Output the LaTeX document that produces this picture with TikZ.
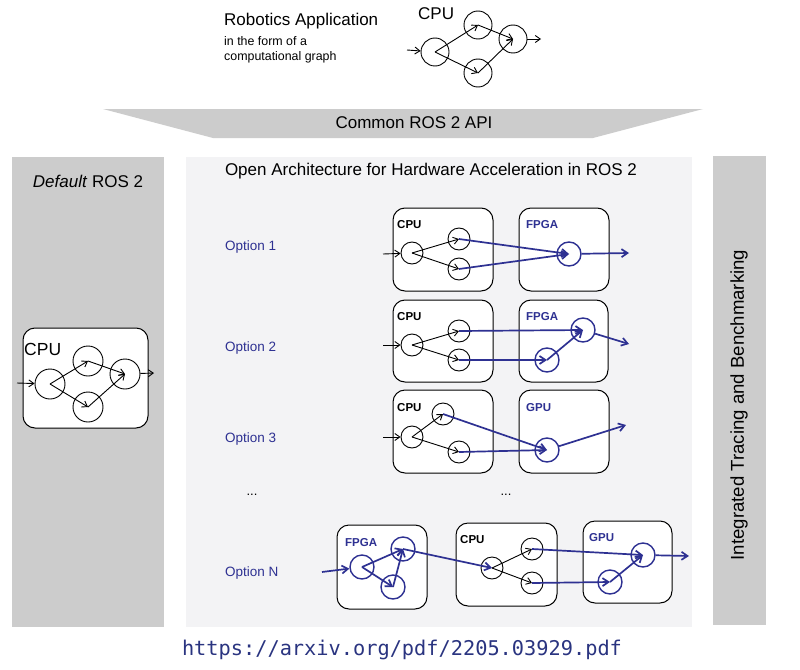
\documentclass[tikz,border=0pt]{standalone}
\usepackage{fontspec}
\setmainfont{Liberation Sans}
\setmonofont{DejaVu Sans Mono}
\usetikzlibrary{arrows.meta}
\definecolor{panelgray}{RGB}{204,204,204}
\definecolor{lightpanel}{RGB}{243,243,245}
\definecolor{accblue}{RGB}{46,49,146}
\definecolor{urlblue}{RGB}{42,52,128}
\begin{document}
\begin{tikzpicture}[x=1pt,y=-1pt,
  nd/.style={circle,draw=black,line width=0.9pt,minimum size=22pt,inner sep=0pt},
  bnd/.style={circle,draw=accblue,line width=1.4pt,minimum size=24pt,inner sep=0pt},
  bignd/.style={circle,draw=black,line width=0.9pt,minimum size=#1,inner sep=0pt},
  blk/.style={draw=black,line width=0.9pt,-{Straight Barb[length=5pt,width=7pt]}},
  blu/.style={draw=accblue,line width=1.7pt,-{Straight Barb[length=6pt,width=8pt]}},
  hwbox/.style={draw=black,line width=1pt,rounded corners=12pt,fill=white},
  hwlab/.style={anchor=west,inner sep=0pt,font=\fontsize{11.5}{13}\selectfont\bfseries},
  optlab/.style={anchor=west,inner sep=0pt,text=accblue,font=\fontsize{13.5}{15}\selectfont},
  head/.style={inner sep=0pt,font=\fontsize{17}{20}\selectfont}
]
\useasboundingbox (0,0) rectangle (800,669);
\fill[white] (0,0) rectangle (800,669);

% ---------- top application ----------
\node[head,anchor=base west] (ratitle) at (224,26) {Robotics Application};
\node[anchor=base west,inner sep=0pt,font=\fontsize{12.4}{14}\selectfont] (rasub1) at (224,46) {in the form of a};
\node[anchor=base west,inner sep=0pt,font=\fontsize{12.4}{14}\selectfont] (rasub2) at (224,61) {computational graph};
\node[head,anchor=west] (topcpu) at (418,14) {CPU};
\node[bignd=28pt] (ta) at (435,52) {};
\node[bignd=28pt] (tb) at (478,25) {};
\node[bignd=28pt] (tc) at (513,39) {};
\node[bignd=28pt] (td) at (478,73) {};
\coordinate (tin) at (407,50);
\coordinate (tout) at (541,39);
\draw[blk] (tin) -- (ta);
\draw[blk] (ta.center) -- (tb.center);
\draw[blk] (ta.center) -- (td.center);
\draw[blk] (tb.center) -- (tc.center);
\draw[blk] (td.center) -- (tc.center);
\draw[blk] (tc) -- (tout);

% ---------- API band ----------
\fill[panelgray] (103,109) -- (703,109) -- (593,138) -- (213,138) -- cycle;
\node[head] (api) at (414,123) {Common ROS 2 API};

% ---------- panels ----------
\fill[panelgray] (12,157) rectangle (164,627);
\fill[lightpanel] (186,157) rectangle (692,627);
\fill[panelgray] (713,156) rectangle (766,625);
\node[head] (deflab) at (88,181) {\textit{Default} ROS 2};
\node[head] (oalab) at (431,171) {Open Architecture for Hardware Acceleration in ROS 2};
\node[inner sep=0pt,rotate=90,font=\fontsize{18.6}{20}\selectfont] (itb) at (739,405) {Integrated Tracing and Benchmarking};

% ---------- default ROS 2 ----------
\draw[hwbox] (23,328) rectangle (148,428);
\node[anchor=west,inner sep=0pt,font=\fontsize{17.5}{20}\selectfont] (dcpu) at (24,349) {CPU};
\node[bignd=30pt] (da) at (50,384) {};
\node[bignd=30pt] (db) at (88,361) {};
\node[bignd=30pt] (dc) at (125,374) {};
\node[bignd=30pt] (dd) at (88,407) {};
\coordinate (din) at (17,383);
\coordinate (dout) at (154,373);
\draw[blk] (din) -- (da);
\draw[blk] (da.center) -- (db.center);
\draw[blk] (da.center) -- (dd.center);
\draw[blk] (db.center) -- (dc.center);
\draw[blk] (dd.center) -- (dc.center);
\draw[blk] (dc) -- (dout);

% ---------- option labels ----------
\node[optlab] (o1) at (225,247) {Option 1};
\node[optlab] (o2) at (225,348) {Option 2};
\node[optlab] (o3) at (225,439) {Option 3};
\node[optlab] (on) at (225,573) {Option N};
\node[inner sep=0pt,font=\fontsize{13}{15}\selectfont] (dots1) at (252,495) {...};
\node[inner sep=0pt,font=\fontsize{13}{15}\selectfont] (dots2) at (506,495) {...};

% ---------- option 1 ----------
\draw[hwbox] (393,208) rectangle (493,291);
\draw[hwbox] (519,208) rectangle (609,291);
\node[hwlab] (a1cpu) at (397,225) {CPU};
\node[hwlab,text=accblue] (a1fpga) at (526,225) {FPGA};
\node[nd] (a1l) at (412,253) {};
\node[nd] (a1t) at (459,239) {};
\node[nd] (a1b) at (459,269) {};
\node[bnd] (a1f) at (569,254) {};
\coordinate (a1in) at (383,254);
\coordinate (a1out) at (629,253);
\draw[blk] (a1in) -- (a1l);
\draw[blk] (a1l.center) -- (a1t.center);
\draw[blk] (a1l.center) -- (a1b.center);
\draw[blu] (a1t.center) -- (a1f.center);
\draw[blu] (a1b.center) -- (a1f.center);
\draw[blu] (a1f) -- (a1out);

% ---------- option 2 ----------
\draw[hwbox] (393,300) rectangle (493,382);
\draw[hwbox] (519,300) rectangle (608,382);
\node[hwlab] (a2cpu) at (397,317) {CPU};
\node[hwlab,text=accblue] (a2fpga) at (526,317) {FPGA};
\node[nd] (a2l) at (412,345) {};
\node[nd] (a2t) at (459,331) {};
\node[nd] (a2b) at (459,360) {};
\node[bnd] (a2fb) at (547,360) {};
\node[bnd] (a2ft) at (583,330) {};
\coordinate (a2in) at (383,345);
\coordinate (a2out) at (629,344);
\draw[blk] (a2in) -- (a2l);
\draw[blk] (a2l.center) -- (a2t.center);
\draw[blk] (a2l.center) -- (a2b.center);
\draw[blu] (a2t.center) -- (a2ft.center);
\draw[blu] (a2b.center) -- (a2fb.center);
\draw[blu] (a2fb.center) -- (a2ft.center);
\draw[blu] (a2ft) -- (a2out);

% ---------- option 3 ----------
\draw[hwbox] (393,390) rectangle (493,473);
\draw[hwbox] (519,390) rectangle (609,473);
\node[hwlab] (a3cpu) at (397,408) {CPU};
\node[hwlab,text=accblue] (a3gpu) at (526,408) {GPU};
\node[nd] (a3l) at (412,437) {};
\node[nd] (a3t) at (443,414) {};
\node[nd] (a3b) at (459,452) {};
\node[bnd] (a3g) at (547,450) {};
\coordinate (a3in) at (383,437);
\coordinate (a3out) at (626,425);
\draw[blk] (a3in) -- (a3l);
\draw[blk] (a3l.center) -- (a3t.center);
\draw[blk] (a3l.center) -- (a3b.center);
\draw[blu] (a3t.center) -- (a3g.center);
\draw[blu] (a3b.center) -- (a3g.center);
\draw[blu] (a3g) -- (a3out);

% ---------- option N ----------
\draw[hwbox] (337,525) rectangle (427,609);
\draw[hwbox] (456,523) rectangle (557,606);
\draw[hwbox] (583,521) rectangle (672,603);
\node[hwlab,text=accblue] (anfpga) at (345,543) {FPGA};
\node[hwlab] (ancpu) at (460,540) {CPU};
\node[hwlab,text=accblue] (angpu) at (589,538) {GPU};
\node[bnd] (anfl) at (362,567) {};
\node[bnd] (anft) at (403,549) {};
\node[bnd] (anfb) at (393,587) {};
\node[nd] (ancl) at (492,568) {};
\node[nd] (anct) at (532,549) {};
\node[nd] (ancb) at (532,583) {};
\node[bnd] (angb) at (610,582) {};
\node[bnd] (angt) at (643,555) {};
\coordinate (anin) at (322,572);
\coordinate (anout) at (689,556);
\draw[blu] (anin) -- (anfl);
\draw[blu] (anfl.center) -- (anft.center);
\draw[blu] (anfl.center) -- (anfb.center);
\draw[blu] (anfb.center) -- (anft.center);
\draw[blu] (anft.center) -- (ancl.center);
\draw[blk] (ancl.center) -- (anct.center);
\draw[blk] (ancl.center) -- (ancb.center);
\draw[blu] (anct.center) -- (angt.center);
\draw[blu] (ancb.center) -- (angb.center);
\draw[blu] (angb.center) -- (angt.center);
\draw[blu] (angt) -- (anout);

% ---------- URL ----------
\node[inner sep=0pt,text=urlblue,font=\ttfamily\fontsize{20.3}{22}\selectfont] (url) at (402,650) {https://arxiv.org/pdf/2205.03929.pdf};
\end{tikzpicture}
\end{document}
